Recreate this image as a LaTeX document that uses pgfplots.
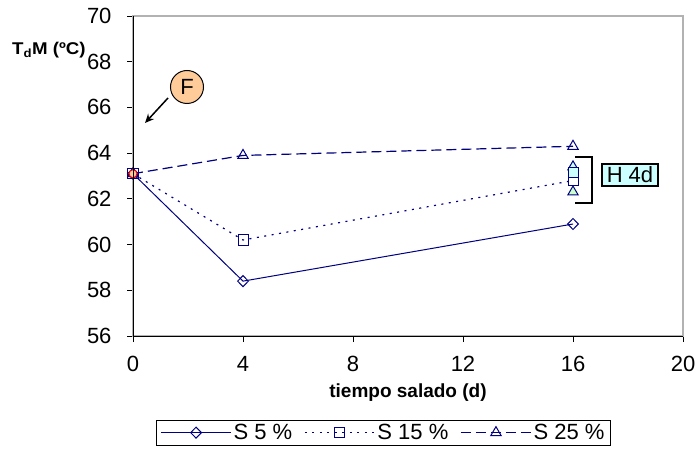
\documentclass[border=0pt]{standalone}
\usepackage{fontspec}
\setmainfont{Liberation Sans}
\usepackage{pgfplots}
\pgfplotsset{compat=1.18}
\usetikzlibrary{arrows.meta}
\definecolor{navy}{HTML}{000080}
\definecolor{peach}{HTML}{FFCC99}
\definecolor{paleblue}{HTML}{CCFFFF}
\definecolor{palegreen}{HTML}{CCFFCC}
\newcommand{\fs}{\fontsize{22bp}{26bp}\selectfont}
\newcommand{\fl}{\fontsize{19bp}{23bp}\selectfont}
\newcommand{\fy}{\fontsize{17bp}{20bp}\selectfont}

\begin{document}
\begin{tikzpicture}
\useasboundingbox (-133bp,-116bp) rectangle (566bp,336bp);
\begin{axis}[
  at={(0,0)}, anchor=south west,
  scale only axis, width=550bp, height=320bp,
  xmin=0, xmax=20, ymin=56, ymax=70,
  xtick={0,4,...,20}, ytick={56,58,...,70},
  tick pos=left, tick align=outside, major tick length=6bp,
  tick style={black, line width=0.8bp},
  axis line style={draw=gray!60, line width=1.2bp},
  /pgf/number format/assume math mode=true,
  tick label style={font=\fs},
  xticklabel style={yshift=-11bp},
  yticklabel style={xshift=-12bp},
  clip=false,
  legend columns=3,
  legend style={at={(axis description cs:0.4555,-0.302)}, anchor=center,
    draw=black, line width=1bp, font=\fs, inner xsep=4bp, inner ysep=2bp,
    /tikz/every even column/.append style={column sep=10bp}},
  legend image code/.code={%
    \draw[mark repeat=2, mark phase=2, #1]
      plot coordinates {(0bp,0bp) (35bp,0bp) (70bp,0bp)};},
]
% salting series
\addplot[navy, line width=1bp, mark=diamond, mark size=5.5bp,
  mark options={fill=white, solid, xscale=1.3}]
  coordinates {(0,63.1) (4,58.4) (16,60.9)};
\addlegendentry{S 5 \%}
\addplot[navy, line width=1.2bp, dash pattern=on 2bp off 5.5bp, mark=square, mark size=5bp,
  mark options={fill=white, solid, line width=1bp}]
  coordinates {(0,63.1) (4,60.2) (16,62.8)};
\addlegendentry{S 15 \%}
\addplot[navy, line width=1.2bp, dash pattern=on 10bp off 5bp, mark=triangle, mark size=6bp,
  mark options={fill=white, solid, line width=1bp}]
  coordinates {(0,63.1) (4,63.9) (16,64.3)};
\addlegendentry{S 25 \%}
% H 4d points
\addplot[forget plot, only marks, navy, mark=triangle*, mark size=6bp,
  mark options={fill=paleblue, line width=1bp}] coordinates {(16,63.4)};
\addplot[forget plot, only marks, navy, mark=square*, mark size=5bp,
  mark options={fill=paleblue, line width=1bp}] coordinates {(16,63.15)};
\addplot[forget plot, only marks, navy, mark=triangle*, mark size=6bp,
  mark options={fill=palegreen, line width=1bp}] coordinates {(16,62.3)};
% fresh sample
\addplot[forget plot, only marks, mark=*, mark size=4bp,
  mark options={draw=red, fill=peach, line width=1bp}] coordinates {(0,63.1)};
\end{axis}
% black left and bottom axis lines
\draw[black, line width=1bp] (0,320bp) -- (0,0) -- (550bp,0);
% labels
\node[anchor=base west, font=\bfseries\fy, xscale=1.1, inner sep=0pt] at (-121bp,281bp)
  {T\textsubscript{d}M (ºC)};
\node[font=\bfseries\fl] at (275bp,-57bp) {tiempo salado (d)};
% F marker
\draw[line width=1bp, fill=peach] (54bp,249bp) circle (16.5bp);
\node[font=\fs] at (54bp,249bp) {F};
\draw[-{Stealth[length=9bp,width=8bp]}, line width=1.5bp] (35bp,238bp) -- (12bp,213bp);
% H 4d bracket and box
\draw[line width=1.2bp] (442bp,179bp) -- (459bp,179bp) -- (459bp,133bp) -- (442bp,133bp);
\node[draw, line width=1.2bp, fill=paleblue, minimum width=56bp, minimum height=22bp,
  inner sep=0pt, font=\fs] at (497bp,161bp) {H 4d};
\end{tikzpicture}
\end{document}
